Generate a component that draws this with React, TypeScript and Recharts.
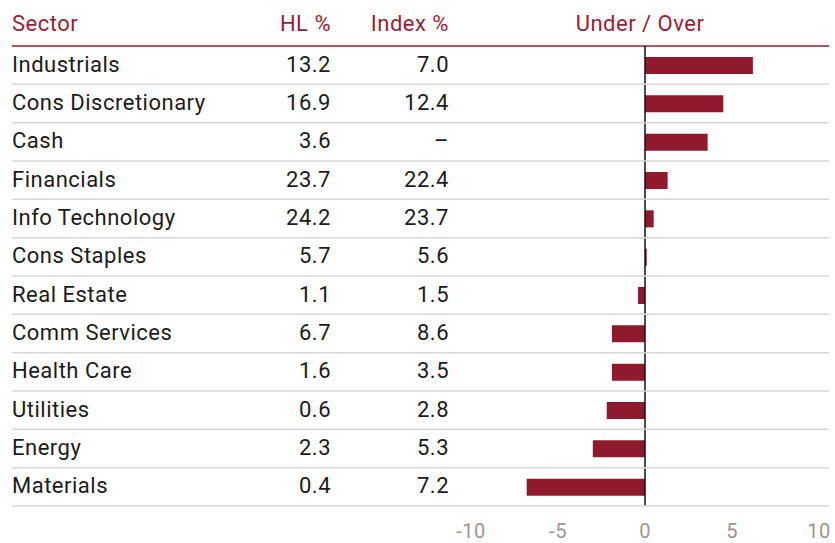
import React from 'react';
import { BarChart, Bar, XAxis, YAxis, ReferenceLine } from 'recharts';

const sectors = [
  'Industrials',
  'Cons Discretionary',
  'Cash',
  'Financials',
  'Info Technology',
  'Cons Staples',
  'Real Estate',
  'Comm Services',
  'Health Care',
  'Utilities',
  'Energy',
  'Materials',
];
const hlPct = ['13.2', '16.9', '3.6', '23.7', '24.2', '5.7', '1.1', '6.7', '1.6', '0.6', '2.3', '0.4'];
const indexPct = ['7.0', '12.4', '–', '22.4', '23.7', '5.6', '1.5', '8.6', '3.5', '2.8', '5.3', '7.2'];
const underOver = [6.2, 4.5, 3.6, 1.3, 0.5, 0.1, -0.4, -1.9, -1.9, -2.2, -3.0, -6.8];
const xTicks = [-10, -5, 0, 5, 10];
const headers = ['Sector', 'HL %', 'Index %', 'Under / Over'];

const data = sectors.map((s, i) => ({ sector: s, hl: hlPct[i], idx: indexPct[i], diff: underOver[i] }));

const RED = '#8f1a2e';
const HEAD = '#9a1c32';
const TEXT = '#1b1b1b';
const FONT = 'Roboto, sans-serif';
const W = 835;
const H = 543;
const ROW_HALF = 19.17;

const RowTick = (props: any) => {
  const { y, index } = props;
  const d = data[index];
  if (!d) return null;
  const ts = { fontFamily: FONT, fontSize: 22, fill: TEXT, letterSpacing: 0.5 };
  return (
    <g>
      <text x={12} y={y} dy="0.3em" textAnchor="start" {...ts}>{d.sector}</text>
      <text x={331} y={y} dy="0.3em" textAnchor="end" {...ts}>{d.hl}</text>
      <text x={449} y={y} dy="0.3em" textAnchor="end" {...ts}>{d.idx}</text>
      <line x1={12} x2={829} y1={y + ROW_HALF} y2={y + ROW_HALF} stroke="#d7d7d7" strokeWidth={1.5} />
    </g>
  );
};

export default function App() {
  const hs = { fontFamily: FONT, fontSize: 22, fill: HEAD, letterSpacing: 0.5 };
  return (
    <div style={{ position: 'absolute', left: 0, top: 0, width: W, height: H, background: '#fff' }}>
      <BarChart
        width={W}
        height={H}
        data={data}
        layout="vertical"
        margin={{ top: 46, right: 16, bottom: 7, left: 0 }}
        barCategoryGap={0}
      >
        <XAxis
          type="number"
          domain={[-10, 10]}
          ticks={xTicks}
          axisLine={false}
          tickLine={false}
          tickSize={0}
          tickMargin={18}
          height={30}
          tick={{ fontFamily: FONT, fontSize: 20, fill: '#9c9691', letterSpacing: 0.5 }}
          interval={0}
        />
        <YAxis
          type="category"
          dataKey="sector"
          width={471}
          axisLine={false}
          tickLine={false}
          interval={0}
          tick={<RowTick />}
        />
        <Bar dataKey="diff" fill={RED} barSize={17} isAnimationActive={false} />
        <ReferenceLine x={0} stroke="#111" strokeWidth={1.5} />
        <text x={12} y={31} textAnchor="start" {...hs}>{headers[0]}</text>
        <text x={331} y={31} textAnchor="end" {...hs}>{headers[1]}</text>
        <text x={449} y={31} textAnchor="end" {...hs}>{headers[2]}</text>
        <text x={640} y={31} textAnchor="middle" {...hs}>{headers[3]}</text>
        <line x1={12} x2={829} y1={46} y2={46} stroke={HEAD} strokeWidth={1.5} />
      </BarChart>
    </div>
  );
}
